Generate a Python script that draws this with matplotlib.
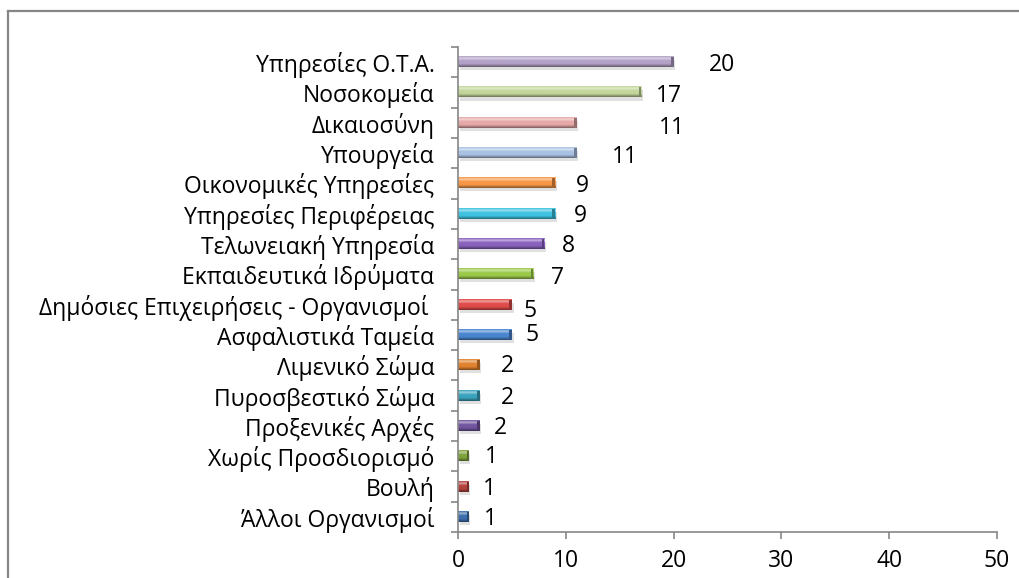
import numpy as np
import matplotlib
matplotlib.use("Agg")
import matplotlib.pyplot as plt
from matplotlib.colors import to_rgb
from matplotlib.patches import Rectangle
from matplotlib.lines import Line2D

plt.rcParams['font.family'] = ['Open Sans', 'DejaVu Sans']

# Categories listed from top to bottom of the chart
categories = [
    "Υπηρεσίες Ο.Τ.Α.",
    "Νοσοκομεία",
    "Δικαιοσύνη",
    "Υπουργεία",
    "Οικονομικές Υπηρεσίες",
    "Υπηρεσίες Περιφέρειας",
    "Τελωνειακή Υπηρεσία",
    "Εκπαιδευτικά Ιδρύματα",
    "Δημόσιες Επιχειρήσεις - Οργανισμοί ",
    "Ασφαλιστικά Ταμεία",
    "Λιμενικό Σώμα",
    "Πυροσβεστικό Σώμα",
    "Προξενικές Αρχές",
    "Χωρίς Προσδιορισμό",
    "Βουλή",
    "Άλλοι Οργανισμοί",
]
values = [20, 17, 11, 11, 9, 9, 8, 7, 5, 5, 2, 2, 2, 1, 1, 1]
x_ticks = [0, 10, 20, 30, 40, 50]

bar_colors = [
    "#b3a2c7", "#c3d69b", "#e6a9a8", "#a9c2e3",
    "#f79646", "#3ec3e0", "#8a62bd", "#9bc94a",
    "#e04c4a", "#4a86d0",
    "#e0822e", "#3aa3bd", "#7255a0", "#7fa23c", "#b5413e", "#3c6fad",
]
# label offsets (pixels) from the end of each bar
label_dx = [48, 28, 95, 48, 27, 25, 24, 24, 18, 20, 28, 28, 21, 23, 21, 22]
label_dy = [-3, -4, -5, -4, -3, -2, -2, -4, -6, 0, -1, -2, -2, -1, -2, -2]

W, H = 1019, 578
fig = plt.figure(figsize=(W / 100, H / 100), dpi=100)
ax = fig.add_axes([458 / W, 1 - 532 / H, (997 - 458) / W, (532 - 47) / H])

n = len(categories)
ypos = np.arange(n)[::-1]
bh = 0.33
grid_col = "#868686"
fs = 16.5


def mix(c, other, f):
    c = np.array(to_rgb(c)); o = np.array(other)
    return c * (1 - f) + o * f


for y, v, col in zip(ypos, values, bar_colors):
    # soft shadow under the bar
    ax.add_patch(Rectangle((0.15, y - bh / 2 - 0.1), v, bh, facecolor="black",
                           alpha=0.12, edgecolor="none", zorder=1))
    # vertical shading: dark bottom, base middle, light highlight near top
    t = np.linspace(0, 1, 40)
    dark = mix(col, (0, 0, 0), 0.45)
    base = np.array(to_rgb(col))
    light = mix(col, (1, 1, 1), 0.5)
    stops_t = [0.0, 0.3, 0.6, 0.8, 1.0]
    stops_c = [dark, base, base, light, base]
    grad = np.stack([np.interp(t, stops_t, [s[k] for s in stops_c]) for k in range(3)], axis=-1)
    img = grad[:, None, :]
    ax.imshow(img, extent=(0, v, y - bh / 2, y + bh / 2), origin="lower",
              aspect="auto", interpolation="bilinear", zorder=2)
    # darker end cap
    cap = min(0.25, v * 0.2)
    ax.add_patch(Rectangle((v - cap, y - bh / 2), cap, bh, facecolor=mix(col, (0, 0, 0), 0.35),
                           edgecolor="none", zorder=3))

for y, v, dx, dy in zip(ypos, values, label_dx, label_dy):
    ax.annotate(str(v), xy=(v, y), xytext=(dx, dy), textcoords="offset pixels",
                ha="center", va="center", fontsize=fs, color="black")

ax.set_xlim(0, 50)
ax.set_ylim(-0.5, n - 0.5)
ax.set_xticks(x_ticks)
ax.set_xticklabels([str(t) for t in x_ticks])
ax.set_yticks(ypos)
ax.set_yticklabels(categories)
ax.set_yticks(np.arange(-0.5, n, 1.0), minor=True)

ax.tick_params(axis="y", which="major", length=0, pad=17, labelsize=fs)
ax.tick_params(axis="y", which="minor", length=5, width=1.2, color=grid_col, direction="out")
ax.tick_params(axis="x", which="major", length=5, width=1.2, color=grid_col, direction="out",
               pad=7, labelsize=fs)

for s in ("top", "right"):
    ax.spines[s].set_visible(False)
for s in ("left", "bottom"):
    ax.spines[s].set_color(grid_col)
    ax.spines[s].set_linewidth(1.2)

# outer chart frame (top and left edges visible)
fy = 1 - 11 / H
fx = 8 / W
fig.add_artist(Line2D([fx, 1.0], [fy, fy], color=grid_col, lw=1.6, transform=fig.transFigure))
fig.add_artist(Line2D([fx, fx], [0, fy], color=grid_col, lw=1.6, transform=fig.transFigure))

fig.savefig("out.png", dpi=100)
